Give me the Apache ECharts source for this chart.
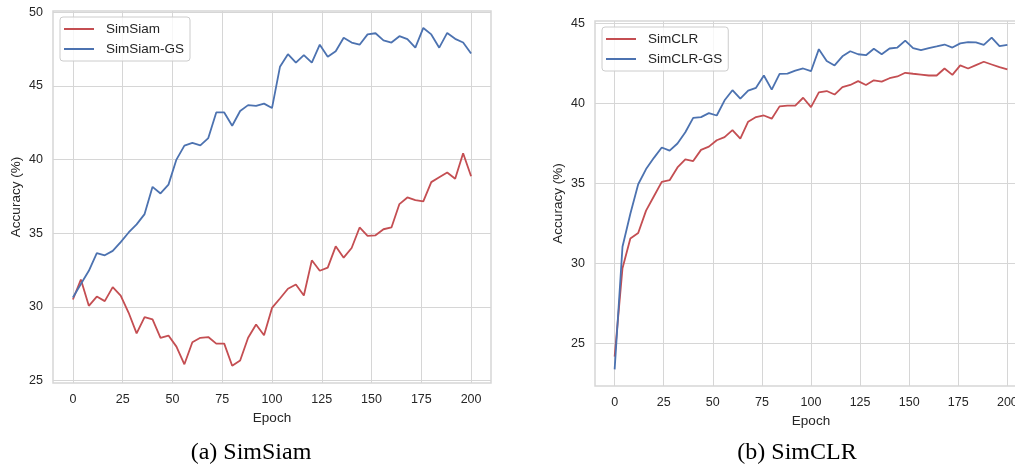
<!DOCTYPE html>
<html>
<head>
<meta charset="utf-8">
<script src="https://cdn.jsdelivr.net/npm/echarts@6/dist/echarts.min.js"></script>
<style>
  html, body { margin: 0; padding: 0; background: #fff; }
  #chart { width: 1015px; height: 468px; }
</style>
</head>
<body>
<div id="chart"></div>
<script>
// epochs (x values shared by all four curves)
var epochs = [0, 4, 8, 12, 16, 20, 24, 28, 32, 36, 40, 44, 48, 52, 56, 60, 64, 68, 72, 76,
  80, 84, 88, 92, 96, 100, 104, 108, 112, 116, 120, 124, 128, 132, 136, 140, 144, 148, 152, 156,
  160, 164, 168, 172, 176, 180, 184, 188, 192, 196, 200]

// (a) SimSiam
var simSiam = [30.5, 31.86, 30.07, 30.7, 30.39, 31.34, 30.77, 29.6, 28.2, 29.3, 29.15, 27.9, 28.05, 27.3, 26.1, 27.6, 27.9, 27.95, 27.5, 27.5,
  26.0, 26.36, 27.9, 28.8, 28.07, 29.93, 30.57, 31.23, 31.52, 30.77, 33.16, 32.45, 32.66, 34.11, 33.34, 34.0, 35.39, 34.82, 34.86, 35.27,
  35.39, 36.98, 37.43, 37.25, 37.16, 38.47, 38.8, 39.12, 38.7, 40.43, 38.87]
var simSiamGS = [30.64, 31.55, 32.45, 33.65, 33.5, 33.8, 34.4, 35.05, 35.6, 36.3, 38.15, 37.7, 38.3, 40.0, 40.95, 41.13, 40.97, 41.46, 43.2, 43.2,
  42.3, 43.3, 43.7, 43.65, 43.8, 43.5, 46.3, 47.16, 46.58, 47.1, 46.58, 47.8, 46.98, 47.36, 48.27, 47.95, 47.8, 48.5, 48.58, 48.09,
  47.95, 48.38, 48.18, 47.6, 48.94, 48.5, 47.6, 48.6, 48.2, 47.95, 47.2]

// (b) SimCLR
var simCLR = [24.17, 29.7, 31.56, 31.9, 33.3, 34.2, 35.1, 35.2, 36.0, 36.5, 36.4, 37.1, 37.3, 37.7, 37.9, 38.33, 37.8, 38.86, 39.15, 39.25,
  39.05, 39.82, 39.87, 39.87, 40.36, 39.77, 40.7, 40.78, 40.56, 41.03, 41.16, 41.4, 41.16, 41.45, 41.37, 41.58, 41.69, 41.92, 41.86, 41.81,
  41.75, 41.75, 42.19, 41.79, 42.38, 42.19, 42.4, 42.61, 42.44, 42.27, 42.13]
var simCLRGS = [23.37, 31.04, 33.1, 34.95, 35.9, 36.6, 37.25, 37.05, 37.5, 38.2, 39.1, 39.15, 39.4, 39.25, 40.2, 40.83, 40.3, 40.8, 40.98, 41.75,
  40.87, 41.85, 41.87, 42.06, 42.19, 42.02, 43.4, 42.66, 42.38, 42.95, 43.27, 43.08, 43.02, 43.42, 43.08, 43.44, 43.5, 43.93, 43.46, 43.34,
  43.46, 43.57, 43.69, 43.5, 43.76, 43.84, 43.82, 43.67, 44.12, 43.59, 43.67]

// tick labels
var xTicks = [0, 25, 50, 75, 100, 125, 150, 175, 200]
var yTicksA = [25, 30, 35, 40, 45, 50]
var yTicksB = [25, 30, 35, 40, 45]

var RED = '#c44e52'
var BLUE = '#4c72b0'
var GRID = '#d6d6d6'
var TEXT = '#262626'
var SANS = 'Liberation Sans, Arial, sans-serif'

function pairs (ys) {
  var out = []
  for (var i = 0; i < epochs.length; i++) out.push([epochs[i], ys[i]])
  return out
}

function xAxis (idx, gap) {
  return {
    type: 'value',
    gridIndex: idx,
    min: -10,
    max: 210,
    name: 'Epoch',
    nameLocation: 'middle',
    nameGap: gap,
    nameTextStyle: { color: TEXT, fontSize: 13.5, fontFamily: SANS },
    axisLine: { show: false },
    axisTick: { show: false, customValues: xTicks },
    axisLabel: { customValues: xTicks, color: TEXT, fontSize: 12.5, fontFamily: SANS, margin: 10 },
    splitLine: { show: true, lineStyle: { color: GRID, width: 1 } }
  }
}

function yAxis (idx, min, max, ticks, gap) {
  return {
    type: 'value',
    gridIndex: idx,
    min: min,
    max: max,
    name: 'Accuracy (%)',
    nameLocation: 'middle',
    nameGap: gap,
    nameTextStyle: { color: TEXT, fontSize: 13.5, fontFamily: SANS },
    axisLine: { show: false },
    axisTick: { show: false, customValues: ticks },
    axisLabel: { customValues: ticks, color: TEXT, fontSize: 12.5, fontFamily: SANS, margin: 10 },
    splitLine: { show: true, lineStyle: { color: GRID, width: 1 } }
  }
}

function line (name, data, color, idx) {
  return {
    name: name,
    type: 'line',
    xAxisIndex: idx,
    yAxisIndex: idx,
    data: pairs(data),
    symbol: 'none',
    animation: false,
    lineStyle: { color: color, width: 1.8 },
    itemStyle: { color: color }
  }
}

function legend (names, left, top) {
  return {
    data: names,
    orient: 'vertical',
    left: left,
    top: top,
    icon: 'rect',
    itemWidth: 30,
    itemHeight: 2,
    itemGap: 6,
    padding: [5, 6, 5, 4],
    borderColor: '#cccccc',
    borderWidth: 1,
    borderRadius: 3,
    backgroundColor: 'rgba(255,255,255,0.8)',
    textStyle: { color: TEXT, fontSize: 13.5, fontFamily: SANS, padding: [0, 0, 0, 7] }
  }
}

var chart = echarts.init(document.getElementById('chart'), null, { renderer: 'canvas' })
chart.setOption({
  backgroundColor: '#fff',
  animation: false,
  grid: [
    { left: 53, top: 11, width: 438, height: 372, show: true, borderColor: GRID, borderWidth: 1.5, outerBoundsMode: 'none' },
    // the right panel runs a little past the page edge, as in the original figure
    { left: 595, top: 21, width: 432, height: 365, show: true, borderColor: GRID, borderWidth: 1.5, outerBoundsMode: 'none' }
  ],
  xAxis: [xAxis(0, 25), xAxis(1, 25)],
  yAxis: [yAxis(0, 24.83, 50.09, yTicksA, 30), yAxis(1, 22.33, 45.16, yTicksB, 30)],
  legend: [
    legend(['SimSiam', 'SimSiam-GS'], 60, 17),
    legend(['SimCLR', 'SimCLR-GS'], 602, 27)
  ],
  series: [
    line('SimSiam', simSiam, RED, 0),
    line('SimSiam-GS', simSiamGS, BLUE, 0),
    line('SimCLR', simCLR, RED, 1),
    line('SimCLR-GS', simCLRGS, BLUE, 1)
  ],
  graphic: [
    { type: 'text', x: 251, y: 453, style: { text: '(a) SimSiam', font: '24px "Liberation Serif", "Times New Roman", serif', fill: '#000', align: 'center', verticalAlign: 'middle' } },
    { type: 'text', x: 797, y: 453, style: { text: '(b) SimCLR', font: '24px "Liberation Serif", "Times New Roman", serif', fill: '#000', align: 'center', verticalAlign: 'middle' } }
  ]
})
</script>
</body>
</html>
